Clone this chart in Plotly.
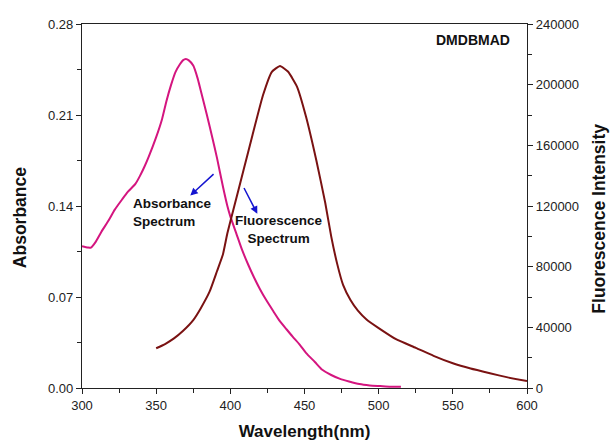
import plotly.graph_objects as go

# Absorbance spectrum (nm, absorbance)
abs_wl = [300, 304, 306, 309, 313, 318, 322, 327, 331, 336, 339, 342, 345, 350, 354, 357,
          360, 363, 366, 368, 370, 372, 375, 378, 380, 384, 388, 391, 395, 398, 400, 404,
          408, 412, 416, 420, 424, 429, 433, 438, 442, 447, 451, 457, 462, 468, 474, 480,
          487, 494, 501, 508, 515]
abs_val = [0.109, 0.108, 0.108, 0.112, 0.120, 0.129, 0.137, 0.145, 0.151, 0.157, 0.163,
           0.170, 0.178, 0.193, 0.207, 0.221, 0.233, 0.243, 0.249, 0.252, 0.253, 0.252,
           0.248, 0.238, 0.229, 0.211, 0.192, 0.177, 0.155, 0.140, 0.132, 0.119, 0.106,
           0.095, 0.085, 0.076, 0.068, 0.059, 0.052, 0.045, 0.0395, 0.033, 0.027, 0.020,
           0.014, 0.010, 0.007, 0.005, 0.003, 0.002, 0.0015, 0.001, 0.001]

# Fluorescence spectrum (nm, intensity)
fl_wl = [350, 356, 362, 368, 375, 380, 386, 391, 395, 398, 402, 409, 415, 422, 428, 433.5,
         439, 445, 451, 458, 464, 468, 472, 476, 481, 486, 492, 500, 512, 525, 537, 550,
         562, 575, 587, 600]
fl_val = [26200, 29000, 32700, 37600, 44800, 52500, 63500, 77000, 88000, 102000, 117400,
          144000, 167000, 193000, 208500, 212300, 208500, 198600, 179000, 150000, 122000,
          100000, 82000, 68000, 58000, 51000, 45000, 39500, 32000, 26500, 21200, 16300,
          12800, 9700, 7000, 4600]

# Axis tick settings
x_tick0, x_dtick = 300, 50
abs_dtick = 0.07
fl_dtick = 40000

FONT = "Arial, Liberation Sans, sans-serif"
TXT = "#111"

fig = go.Figure()
fig.add_trace(go.Scatter(x=abs_wl, y=abs_val, mode="lines", name="Absorbance Spectrum",
                         line=dict(color="#d4157f", width=2, shape="spline", smoothing=0.6),
                         yaxis="y"))
fig.add_trace(go.Scatter(x=fl_wl, y=fl_val, mode="lines", name="Fluorescence Spectrum",
                         line=dict(color="#7a1212", width=2, shape="spline", smoothing=0.4),
                         yaxis="y2"))

axis_common = dict(showline=True, linecolor="#222", linewidth=1.2, ticks="outside",
                   ticklen=5, tickwidth=1.2, tickcolor="#222", showgrid=False, zeroline=False,
                   automargin=False,
                   tickfont=dict(family=FONT, size=13, color="#222"))

fig.update_layout(
    width=611, height=441,
    margin=dict(l=82, r=84, t=24, b=53),
    paper_bgcolor="white", plot_bgcolor="white",
    showlegend=False,
    xaxis=dict(range=[300, 600], tick0=x_tick0, dtick=x_dtick, mirror=True,
               minor=dict(ticks="outside", ticklen=4, tickwidth=1, dtick=x_dtick / 2,
                          tickcolor="#222", showgrid=False),
               title=dict(text="<b>Wavelength(nm)</b>", font=dict(family=FONT, size=17, color=TXT),
                          standoff=19),
               **axis_common),
    yaxis=dict(range=[0, 0.28], tick0=0, dtick=abs_dtick, tickformat=".2f",
               minor=dict(ticks="outside", ticklen=4, tickwidth=1, dtick=abs_dtick / 2,
                          tickcolor="#222", showgrid=False),
               **axis_common),
    yaxis2=dict(range=[0, 240000], tick0=0, dtick=fl_dtick, tickformat="d",
                overlaying="y", side="right",
                minor=dict(ticks="outside", ticklen=4, tickwidth=1, dtick=fl_dtick / 2,
                           tickcolor="#222", showgrid=False),
                **axis_common),
    annotations=[
        # y-axis titles
        dict(x=-0.139, y=0.467, xref="paper", yref="paper", text="<b>Absorbance</b>",
             textangle=-90, showarrow=False, xanchor="center", yanchor="middle",
             font=dict(family=FONT, size=17.5, color=TXT)),
        dict(x=1.163, y=0.464, xref="paper", yref="paper", text="<b>Fluorescence Intensity</b>",
             textangle=-90, showarrow=False, xanchor="center", yanchor="middle",
             font=dict(family=FONT, size=17.5, color=TXT)),
        # labels
        dict(x=0.967, y=0.955, xref="paper", yref="paper", text="<b>DMDBMAD</b>", showarrow=False,
             xanchor="right", yanchor="middle", font=dict(family=FONT, size=14, color=TXT)),
        dict(x=0.109, y=0.481, xref="paper", yref="paper", text="<b>Absorbance<br>Spectrum</b>",
             showarrow=False, xanchor="left", yanchor="middle", align="left",
             font=dict(family=FONT, size=13.5, color=TXT)),
        dict(x=0.4437, y=0.435, xref="paper", yref="paper", text="<b>Fluorescence<br>Spectrum</b>",
             showarrow=False, xanchor="center", yanchor="middle", align="center",
             font=dict(family=FONT, size=13.5, color=TXT)),
        # arrows
        dict(x=373, y=0.148, ax=389.7, ay=0.1656, xref="x", yref="y", axref="x", ayref="y",
             text="", showarrow=True, arrowhead=2, arrowsize=1, arrowwidth=1.5, arrowcolor="#1515d0"),
        dict(x=418.2, y=0.134, ax=408.7, ay=0.155, xref="x", yref="y", axref="x", ayref="y",
             text="", showarrow=True, arrowhead=2, arrowsize=1, arrowwidth=1.5, arrowcolor="#1515d0"),
    ],
)

fig.write_html("out.html")
